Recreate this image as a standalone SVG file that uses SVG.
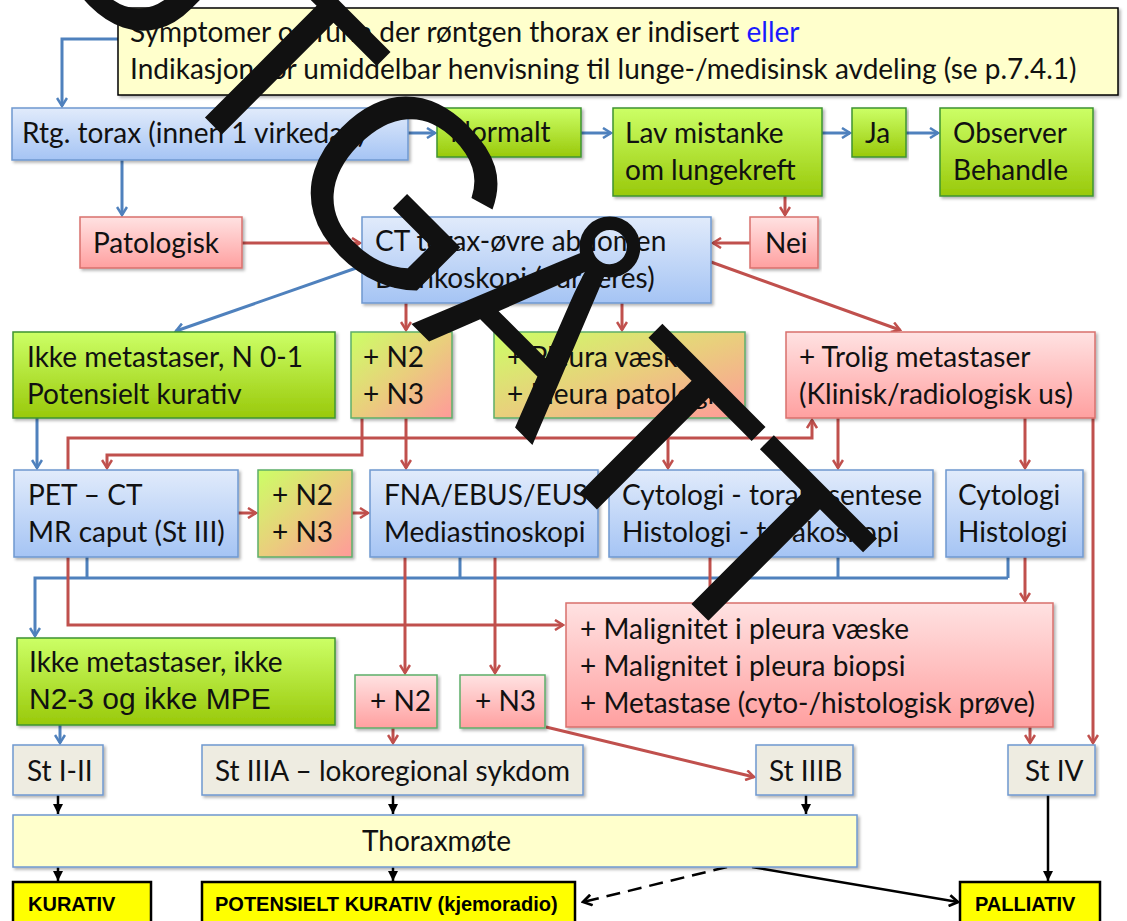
<svg xmlns="http://www.w3.org/2000/svg" width="1127" height="921" viewBox="0 0 1127 921">
<defs>
<style>
.t{font-family:Lato,"Liberation Sans",sans-serif;font-size:28px;fill:#111}
.a{font-family:"Liberation Sans",Arial,sans-serif;font-size:30px;fill:#111}
.k{font-family:"Liberation Sans",Arial,sans-serif;font-size:20px;font-weight:bold;fill:#000}
.bl{fill:url(#gB);stroke:#6F98D0;stroke-width:1.5}
.gr{fill:url(#gG);stroke:#3E9430;stroke-width:1.5}
.pk{fill:url(#gP);stroke:#D9706C;stroke-width:1.5}
.mx{fill:url(#gM);stroke:#5EAE6A;stroke-width:1.5}
.pg{fill:url(#gP);stroke:#5EAE6A;stroke-width:1.5}
.st{fill:#EEECE1;stroke:#6F98D0;stroke-width:1.5}
.yl{fill:#FFFFCC;stroke:#6F98D0;stroke-width:1.5}
.ky{fill:#FFFF00;stroke:#000;stroke-width:2.5}
.cb{fill:none;stroke:#4F81BD;stroke-width:3}
.cr{fill:none;stroke:#C0504D;stroke-width:3}
.ck{fill:none;stroke:#000;stroke-width:2.5}
</style>
<linearGradient id="gB" x1="0" y1="0" x2="0" y2="1"><stop offset="0" stop-color="#E1EBFB"/><stop offset="1" stop-color="#A5C4F4"/></linearGradient>
<linearGradient id="gG" x1="0" y1="0" x2="0" y2="1"><stop offset="0" stop-color="#CCFF66"/><stop offset="1" stop-color="#99C90A"/></linearGradient>
<linearGradient id="gP" x1="0" y1="0" x2="0" y2="1"><stop offset="0" stop-color="#FFE2E2"/><stop offset="1" stop-color="#FFA0A0"/></linearGradient>
<linearGradient id="gM" x1="0" y1="0" x2="1" y2="1"><stop offset="0" stop-color="#CCFF66"/><stop offset="0.5" stop-color="#E9CF7C"/><stop offset="1" stop-color="#FF9A9A"/></linearGradient>
<filter id="sh" x="-5%" y="-5%" width="110%" height="120%"><feDropShadow dx="2" dy="2" stdDeviation="1.5" flood-color="#000" flood-opacity="0.3"/></filter>
<marker id="aB" viewBox="0 0 12 12" refX="10" refY="6" markerWidth="12" markerHeight="12" markerUnits="userSpaceOnUse" orient="auto"><path d="M2,1 L10,6 L2,11" fill="none" stroke="#4F81BD" stroke-width="2.5"/></marker>
<marker id="aR" viewBox="0 0 12 12" refX="10" refY="6" markerWidth="12" markerHeight="12" markerUnits="userSpaceOnUse" orient="auto"><path d="M2,1 L10,6 L2,11" fill="none" stroke="#C0504D" stroke-width="2.5"/></marker>
<marker id="aK" viewBox="0 0 10 10" refX="10" refY="5" markerWidth="10" markerHeight="10" markerUnits="userSpaceOnUse" orient="auto"><path d="M0,0 L10,5 L0,10 z" fill="#000"/></marker>
<marker id="aO" viewBox="0 0 12 12" refX="10" refY="6" markerWidth="13" markerHeight="13" markerUnits="userSpaceOnUse" orient="auto"><path d="M2,1 L10,6 L2,11" fill="none" stroke="#000" stroke-width="2.5"/></marker>
</defs>
<rect width="1127" height="921" fill="#fff"/>

<g id="connectors">
<path class="cb" d="M118,39 H62 V106" marker-end="url(#aB)"/>
<path class="cb" d="M408,133 H435" marker-end="url(#aB)"/>
<path class="cb" d="M581,133 H611" marker-end="url(#aB)"/>
<path class="cb" d="M822,133 H850" marker-end="url(#aB)"/>
<path class="cb" d="M906,133 H938" marker-end="url(#aB)"/>
<path class="cb" d="M122,160 V215" marker-end="url(#aB)"/>
<path class="cb" d="M362,266 L176,331" marker-end="url(#aB)"/>
<path class="cb" d="M37,418 V468" marker-end="url(#aB)"/>
<path class="cb" d="M87,557 V578 M460,557 V578 M838,557 V578 M1008,557 V578"/>
<path class="cb" d="M1008,578 H35 V636" marker-end="url(#aB)"/>
<path class="cb" d="M60,725 V743" marker-end="url(#aB)"/>

<path class="cr" d="M242,243 H360" marker-end="url(#aR)"/>
<path class="cr" d="M785,196 V215" marker-end="url(#aR)"/>
<path class="cr" d="M750,243 H713" marker-end="url(#aR)"/>
<path class="cr" d="M406,303 V330" marker-end="url(#aR)"/>
<path class="cr" d="M622,303 V330" marker-end="url(#aR)"/>
<path class="cr" d="M711,262 L900,330" marker-end="url(#aR)"/>
<path class="cr" d="M68,470 V438 H812 V420" marker-end="url(#aR)"/>
<path class="cr" d="M362,418 V455 H107 V468" marker-end="url(#aR)"/>
<path class="cr" d="M406,418 V468" marker-end="url(#aR)"/>
<path class="cr" d="M668,418 V468" marker-end="url(#aR)"/>
<path class="cr" d="M838,418 V468" marker-end="url(#aR)"/>
<path class="cr" d="M1025,418 V468" marker-end="url(#aR)"/>
<path class="cr" d="M1093,418 V743" marker-end="url(#aR)"/>
<path class="cr" d="M238,513 H256" marker-end="url(#aR)"/>
<path class="cr" d="M352,513 H368" marker-end="url(#aR)"/>
<path class="cr" d="M68,557 V625 H563" marker-end="url(#aR)"/>
<path class="cr" d="M405,557 V673" marker-end="url(#aR)"/>
<path class="cr" d="M495,557 V673" marker-end="url(#aR)"/>
<path class="cr" d="M710,557 V601" marker-end="url(#aR)"/>
<path class="cr" d="M1025,557 V601" marker-end="url(#aR)"/>
<path class="cr" d="M393,728 V743" marker-end="url(#aR)"/>
<path class="cr" d="M546,727 L754,777" marker-end="url(#aR)"/>
<path class="cr" d="M1030,727 V743" marker-end="url(#aR)"/>

<path class="ck" d="M58,795 V814" marker-end="url(#aK)"/>
<path class="ck" d="M393,795 V814" marker-end="url(#aK)"/>
<path class="ck" d="M806,795 V814" marker-end="url(#aK)"/>
<path class="ck" d="M58,867 V881" marker-end="url(#aK)"/>
<path class="ck" d="M393,867 V881" marker-end="url(#aK)"/>
<path class="ck" d="M1048,795 V881" stroke-width="3" marker-end="url(#aK)"/>
<path class="ck" d="M727,867 L583,902" stroke-width="3" stroke-dasharray="14,8" marker-end="url(#aO)"/>
<path class="ck" d="M752,867 L958,902" stroke-width="3" marker-end="url(#aO)"/>
</g>

<g id="n-top"><rect x="118" y="8" width="1000" height="87" fill="#FFFFCC" stroke="#000" stroke-width="1.5" filter="url(#sh)"/>
<text class="t" x="130" y="42">Symptomer og funn der røntgen thorax er indisert <tspan fill="#1a1aff">eller</tspan></text>
<text class="t" x="130" y="79">Indikasjon for umiddelbar henvisning til lunge-/medisinsk avdeling (se p.7.4.1)</text></g>

<g id="n-rtg"><rect class="bl" x="12" y="108" width="396" height="52" filter="url(#sh)"/><text class="t" x="22" y="143">Rtg. torax (innen 1 virkedag)</text></g>
<g id="n-normalt"><rect class="gr" x="437" y="108" width="144" height="49" filter="url(#sh)"/><text class="t" x="450" y="142">Normalt</text></g>
<g id="n-lav"><rect class="gr" x="613" y="108" width="209" height="88" filter="url(#sh)"/><text class="t" x="625" y="143">Lav mistanke</text><text class="t" x="625" y="180">om lungekreft</text></g>
<g id="n-ja"><rect class="gr" x="852" y="108" width="54" height="49" filter="url(#sh)"/><text class="t" x="865" y="143">Ja</text></g>
<g id="n-obs"><rect class="gr" x="940" y="108" width="153" height="88" filter="url(#sh)"/><text class="t" x="953" y="143">Observer</text><text class="t" x="953" y="180">Behandle</text></g>

<g id="n-pat"><rect class="pk" x="80" y="217" width="162" height="51" filter="url(#sh)"/><text class="t" x="93" y="253">Patologisk</text></g>
<g id="n-ct"><rect class="bl" x="362" y="217" width="349" height="86" filter="url(#sh)"/><text class="t" x="375" y="251">CT torax-øvre abdomen</text><text class="t" x="375" y="288">Bronkoskopi (vurderes)</text></g>
<g id="n-nei"><rect class="pk" x="750" y="217" width="68" height="51" filter="url(#sh)"/><text class="t" x="765" y="253">Nei</text></g>

<g id="n-ikke1"><rect class="gr" x="13" y="332" width="322" height="86" filter="url(#sh)"/><text class="t" x="27" y="367">Ikke metastaser, N 0-1</text><text class="t" x="27" y="404">Potensielt kurativ</text></g>
<g id="n-n23a"><rect class="mx" x="351" y="332" width="101" height="86" filter="url(#sh)"/><text class="t" x="363" y="367">+ N2</text><text class="t" x="363" y="404">+ N3</text></g>
<g id="n-pleura"><rect class="mx" x="494" y="332" width="251" height="86" filter="url(#sh)"/><text class="t" x="507" y="367">+ Pleura væske</text><text class="t" x="507" y="404">+ Pleura patologi</text></g>
<g id="n-trolig"><rect class="pk" x="786" y="332" width="309" height="86" filter="url(#sh)"/><text class="t" x="799" y="367">+ Trolig metastaser</text><text class="t" x="799" y="404">(Klinisk/radiologisk us)</text></g>

<g id="n-pet"><rect class="bl" x="14" y="470" width="224" height="87" filter="url(#sh)"/><text class="t" x="28" y="505">PET – CT</text><text class="t" x="28" y="542">MR caput (St III)</text></g>
<g id="n-n23b"><rect class="mx" x="258" y="470" width="94" height="87" filter="url(#sh)"/><text class="t" x="272" y="505">+ N2</text><text class="t" x="272" y="542">+ N3</text></g>
<g id="n-fna"><rect class="bl" x="370" y="470" width="228" height="87" filter="url(#sh)"/><text class="t" x="384" y="505">FNA/EBUS/EUS</text><text class="t" x="384" y="542">Mediastinoskopi</text></g>
<g id="n-cyto1"><rect class="bl" x="609" y="470" width="324" height="87" filter="url(#sh)"/><text class="t" x="622" y="505">Cytologi - torakosentese</text><text class="t" x="622" y="542">Histologi - torakoskopi</text></g>
<g id="n-cyto2"><rect class="bl" x="946" y="470" width="137" height="87" filter="url(#sh)"/><text class="t" x="958" y="505">Cytologi</text><text class="t" x="958" y="542">Histologi</text></g>

<g id="n-ikke2"><rect class="gr" x="17" y="638" width="318" height="87" filter="url(#sh)"/><text class="t" x="29" y="672">Ikke metastaser, ikke</text><text class="a" x="29" y="709">N2-3 og ikke MPE</text></g>
<g id="n-n2"><rect class="pg" x="355" y="675" width="82" height="53" filter="url(#sh)"/><text class="t" x="370" y="711">+ N2</text></g>
<g id="n-n3"><rect class="pg" x="460" y="675" width="85" height="53" filter="url(#sh)"/><text class="t" x="475" y="711">+ N3</text></g>
<g id="n-mal"><rect class="pk" x="566" y="603" width="487" height="124" filter="url(#sh)"/><text class="t" x="580" y="639">+ Malignitet i pleura væske</text><text class="t" x="580" y="676">+ Malignitet i pleura biopsi</text><text class="t" x="580" y="713">+ Metastase (cyto-/histologisk prøve)</text></g>

<g id="n-st12"><rect class="st" x="13" y="745" width="90" height="50" filter="url(#sh)"/><text class="t" x="27" y="781">St I-II</text></g>
<g id="n-st3a"><rect class="st" x="202" y="745" width="381" height="50" filter="url(#sh)"/><text class="t" x="215" y="781">St IIIA – lokoregional sykdom</text></g>
<g id="n-st3b"><rect class="st" x="756" y="745" width="97" height="50" filter="url(#sh)"/><text class="t" x="769" y="781">St IIIB</text></g>
<g id="n-st4"><rect class="st" x="1008" y="745" width="87" height="50" filter="url(#sh)"/><text class="t" x="1025" y="781">St IV</text></g>

<g id="n-thorax"><rect class="yl" x="13" y="815" width="844" height="52" filter="url(#sh)"/><text class="t" x="362" y="851">Thoraxmøte</text></g>

<g id="n-kur"><rect class="ky" x="13" y="882" width="138" height="50"/><text class="k" x="28" y="911">KURATIV</text></g>
<g id="n-pot"><rect class="ky" x="202" y="882" width="373" height="50"/><text class="k" x="215" y="911">POTENSIELT KURATIV (kjemoradio)</text></g>
<g id="n-pal"><rect class="ky" x="960" y="882" width="140" height="50"/><text class="k" x="975" y="911">PALLIATIV</text></g>

<g id="watermark"><text x="0" y="0" transform="translate(26,-61.5) rotate(45)" font-family="'Liberation Sans',Arial,sans-serif" font-size="258" fill="#111">UTGÅTT</text></g>
</svg>
